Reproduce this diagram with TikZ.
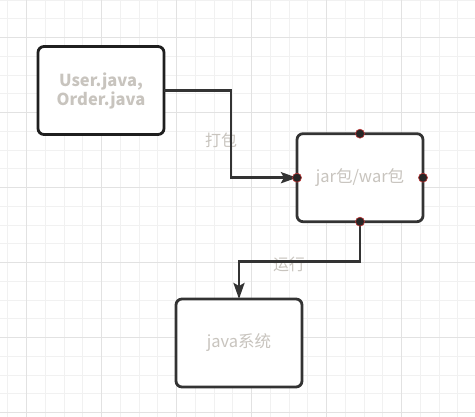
\documentclass[tikz,border=0pt]{standalone}
\usepackage{fontspec}
\setmainfont{Noto Sans CJK SC}
\usetikzlibrary{arrows.meta}
\definecolor{gridminor}{RGB}{241,241,241}
\definecolor{gridmajor}{RGB}{226,226,226}
\definecolor{txtgray}{RGB}{200,196,190}
\definecolor{edgecol}{RGB}{51,51,51}
\definecolor{dotred}{RGB}{190,50,50}
\tikzset{
  box/.style={draw=edgecol, line width=2.8pt, rounded corners=6pt, fill=white,
    minimum width=126pt, minimum height=88pt, inner sep=0pt, outer sep=0pt,
    text=txtgray, font=\fontsize{16.5}{19}\selectfont, align=center},
  conn/.style={draw=edgecol, line width=2.8pt, -{Stealth[length=16pt,width=11pt,inset=3pt]}},
  lbl/.style={text=txtgray, font=\fontsize{16}{19}\selectfont, inner sep=0pt},
  cpoint/.style={circle, fill=black!85, draw=dotred, line width=0.6pt, minimum size=9pt, inner sep=0pt}
}
\begin{document}
\begin{tikzpicture}[x=1pt,y=-1pt]
\useasboundingbox (0,0) rectangle (475,417);
\fill[white] (0,0) rectangle (475,417);
\foreach \i in {0,...,25} \draw[gridminor, line width=1pt] (7.95+18.75*\i,0) -- (7.95+18.75*\i,417);
\foreach \i in {0,...,22} \draw[gridminor, line width=1pt] (0,0.2+18.75*\i) -- (475,0.2+18.75*\i);
\foreach \i in {0,...,5} \draw[gridmajor, line width=1pt] (26.7+75*\i,0) -- (26.7+75*\i,417);
\foreach \i in {0,...,5} \draw[gridmajor, line width=1pt] (0,37.7+75*\i) -- (475,37.7+75*\i);

\node[box, draw=black!88, font=\bfseries\fontsize{16.5}{19}\selectfont] (src) at (101,90.5) {User.java,\\Order.java};
\node[box] (jar) at (360,177.7) {jar包/war包};
\node[box] (sys) at (239,343) {java系统};

\node[lbl] (l1) at (221,140) {打包};
\node[lbl] (l2) at (289,264) {运行};

\draw[conn] (src.east) -- ++(67,0) |- (jar.west);
\draw[conn] (jar.south) -- ++(0,39.5) -| (sys.north);

\node[cpoint] (p1) at (jar.north) {};
\node[cpoint] (p2) at (jar.west) {};
\node[cpoint] (p3) at (jar.east) {};
\node[cpoint] (p4) at (jar.south) {};
\end{tikzpicture}
\end{document}
